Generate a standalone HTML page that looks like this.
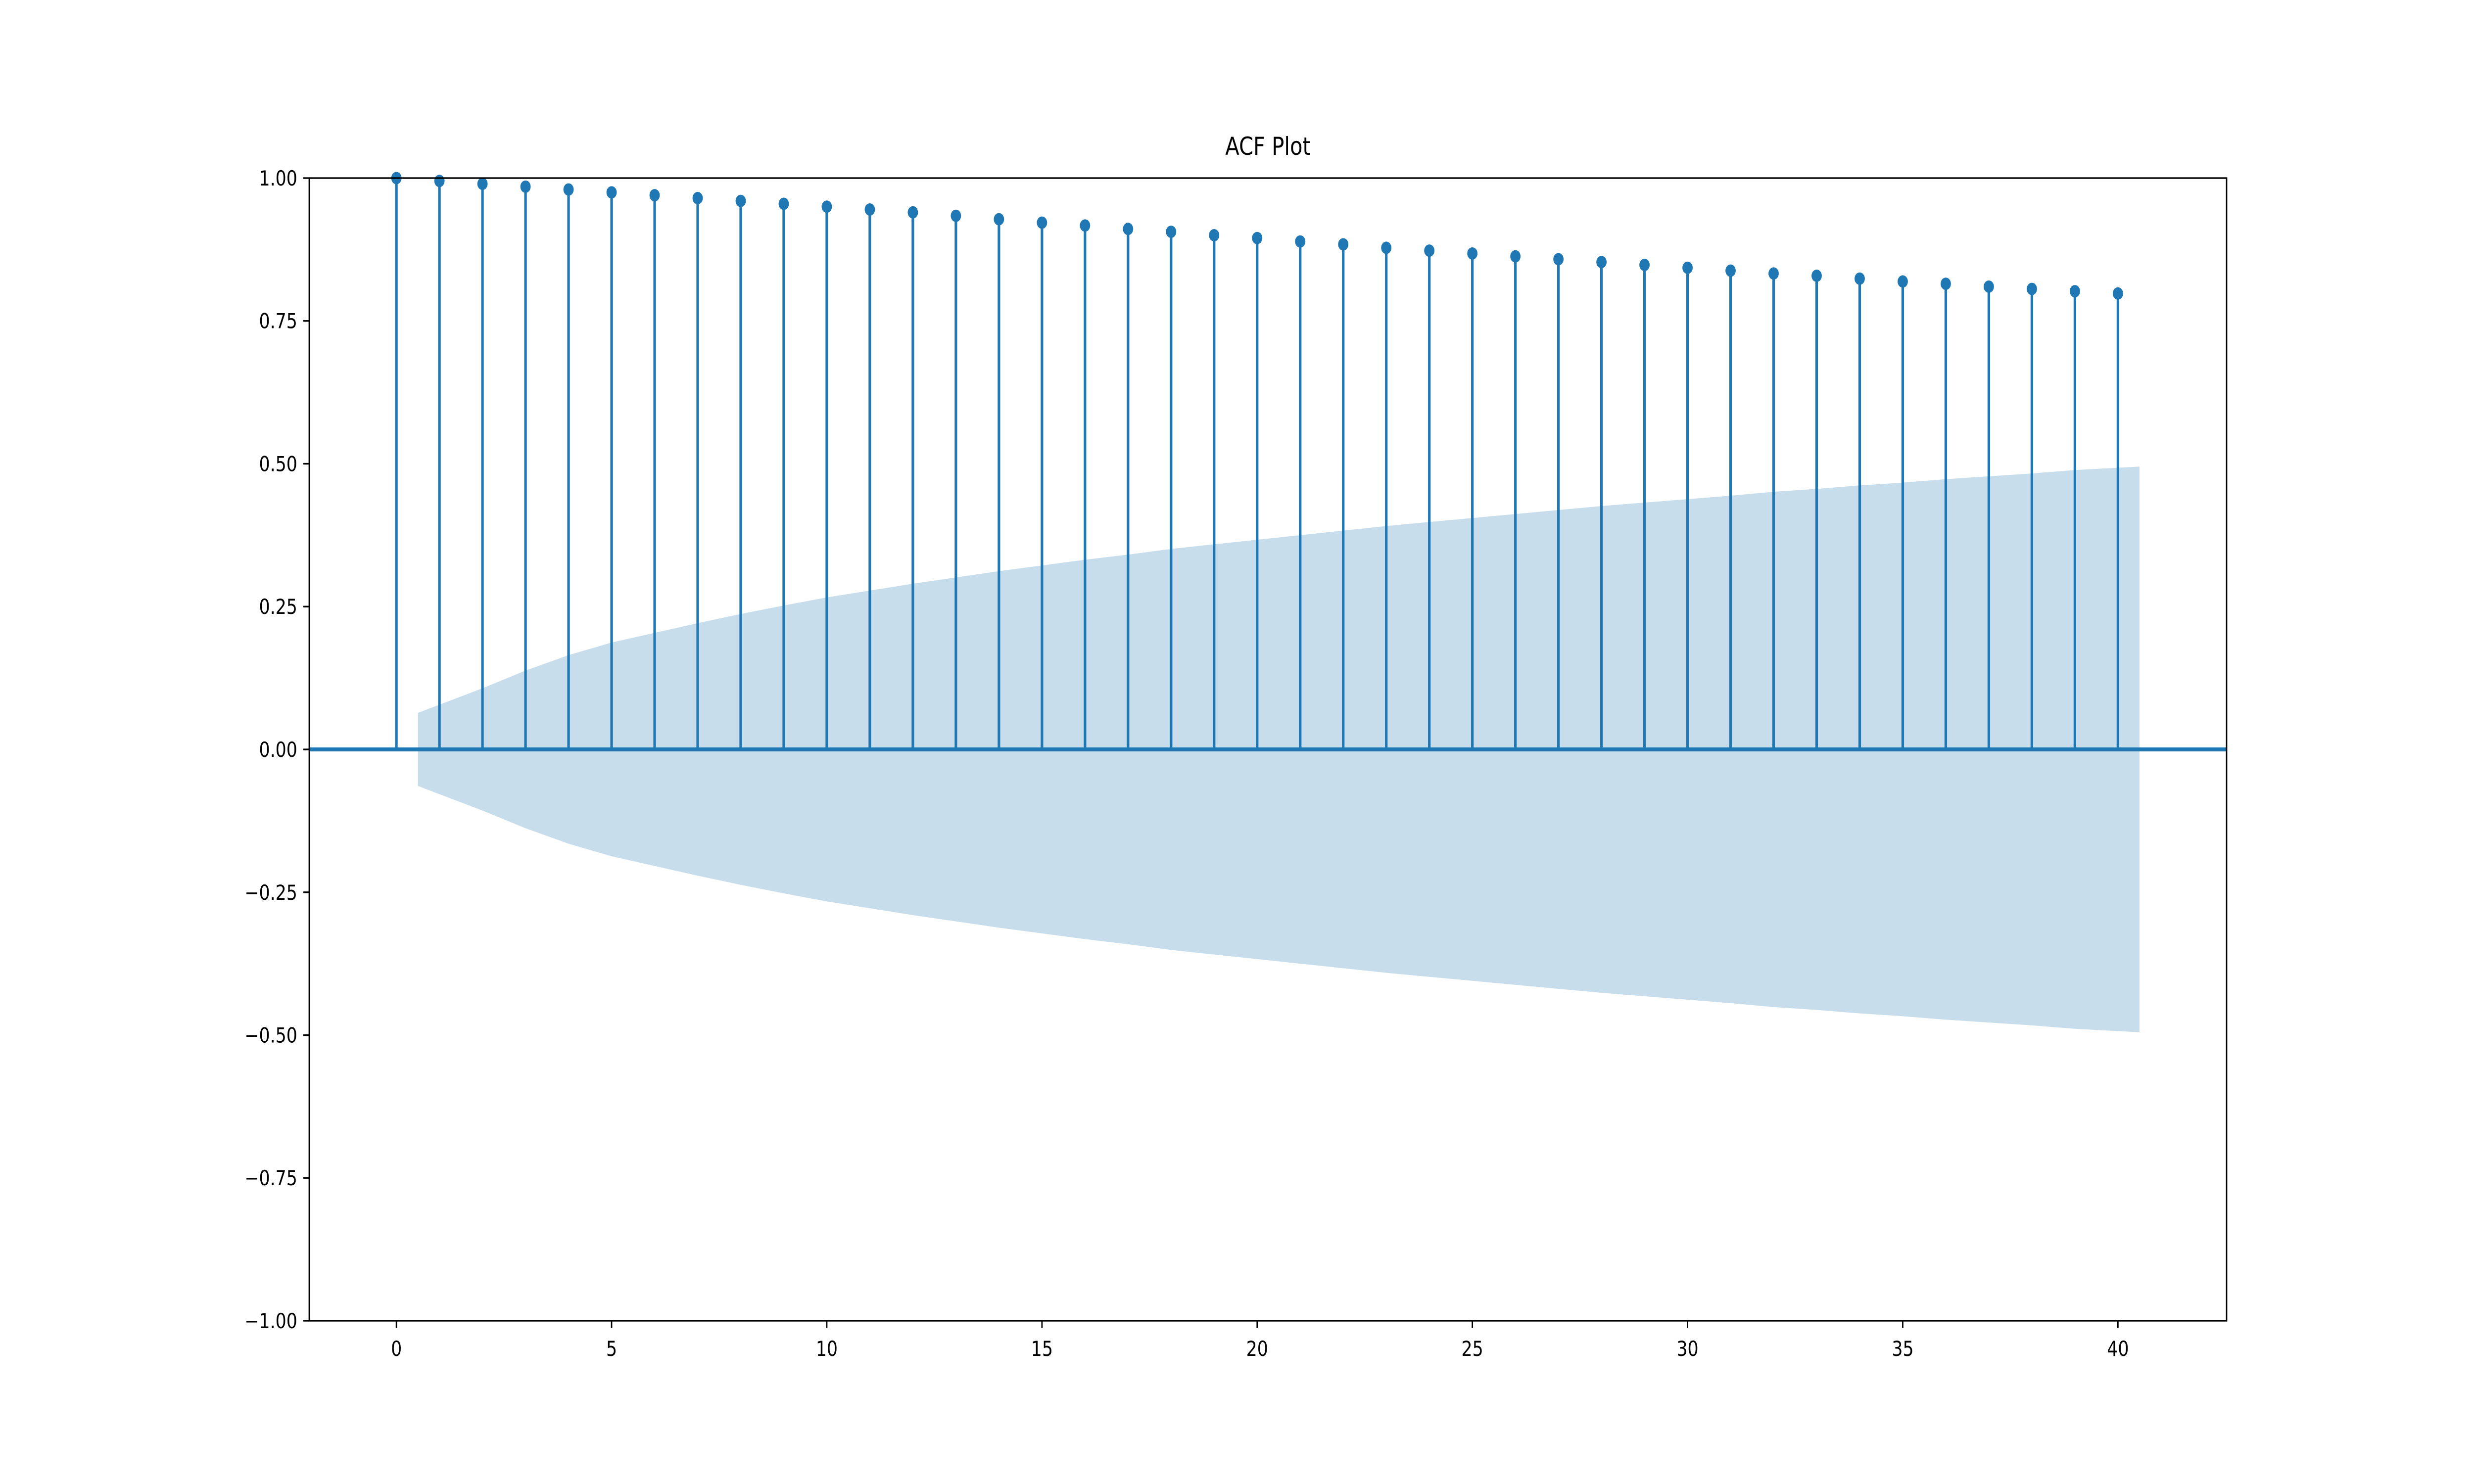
<!DOCTYPE html>
<html><head><meta charset="utf-8"><style>
html,body{margin:0;padding:0;background:#fff;width:100vw;height:100vh;overflow:hidden;}
svg{display:block;width:100vw;height:100vh;font-family:"DejaVu Sans","Liberation Sans",sans-serif;}
</style></head><body>
<svg id="chart" viewBox="0 0 6000 3000" preserveAspectRatio="none" xmlns="http://www.w3.org/2000/svg">
<rect width="6000" height="3000" fill="#fff"/>
<text x="3075" y="313" font-size="50" text-anchor="middle">ACF Plot</text>
<g id="band"></g>
<g id="stems"></g>
<g id="axes"></g>
</svg>
<script>
const lags = [0,1,2,3,4,5,6,7,8,9,10,11,12,13,14,15,16,17,18,19,20,21,22,23,24,25,26,27,28,29,30,31,32,33,34,35,36,37,38,39,40];
const acfValues = [1.000,0.995,0.990,0.985,0.980,0.975,0.970,0.965,0.960,0.955,0.950,0.945,0.940,0.934,0.928,0.922,0.917,0.911,0.906,0.900,0.895,0.889,0.884,0.878,0.873,0.868,0.863,0.858,0.853,0.848,0.843,0.838,0.833,0.829,0.824,0.819,0.815,0.810,0.806,0.802,0.798];
const confWidth = [0.064,0.107,0.138,0.165,0.187,0.204,0.221,0.237,0.252,0.266,0.278,0.290,0.301,0.312,0.322,0.332,0.341,0.351,0.359,0.367,0.375,0.383,0.391,0.398,0.405,0.412,0.419,0.426,0.432,0.438,0.444,0.451,0.456,0.462,0.467,0.473,0.478,0.483,0.489,0.495];
const xTicks = [0,5,10,15,20,25,30,35,40];
const yTicks = [-1,-0.75,-0.5,-0.25,0,0.25,0.5,0.75,1];
const yTickLabels = ["\u22121.00","\u22120.75","\u22120.50","\u22120.25","0.00","0.25","0.50","0.75","1.00"];

const L=750,R=5400,T=360,B=2670;
const xMin=-2.025,xMax=42.525,yMin=-1,yMax=1;
const sx=v=>L+(v-xMin)/(xMax-xMin)*(R-L);
const sy=v=>B-(v-yMin)/(yMax-yMin)*(B-T);
const NS="http://www.w3.org/2000/svg";
function mk(tag,attrs,parent){const e=document.createElementNS(NS,tag);for(const k in attrs)e.setAttribute(k,attrs[k]);parent.appendChild(e);return e;}

const band=document.getElementById('band');
const bx=confWidth.map((w,i)=>{let x=i+1; if(i===0)x=0.5; if(i===confWidth.length-1)x=x+0.5; return x;});
let pts=[];
for(let i=0;i<confWidth.length;i++)pts.push(sx(bx[i])+','+sy(confWidth[i]));
for(let i=confWidth.length-1;i>=0;i--)pts.push(sx(bx[i])+','+sy(-confWidth[i]));
const poly=mk('polygon',{points:pts.join(' '),fill:'#1f77b4','fill-opacity':0.25},band);



const stems=document.getElementById('stems');
lags.forEach((lag,i)=>{
  const ln=mk('line',{x1:sx(lag),x2:sx(lag),y1:sy(0),y2:sy(acfValues[i]),stroke:'#1f77b4','stroke-width':6.25},stems);
  
  
});
const zl=mk('line',{x1:L,x2:R,y1:sy(0),y2:sy(0),stroke:'#1f77b4','stroke-width':8},stems);


lags.forEach((lag,i)=>{
  const c=mk('circle',{cx:sx(lag),cy:sy(acfValues[i]),r:12.5,fill:'#1f77b4'},stems);
  
  
});

const axes=document.getElementById('axes');
const fr=mk('rect',{x:L,y:T,width:R-L,height:B-T,fill:'none',stroke:'#000','stroke-width':3.3},axes);


xTicks.forEach(v=>{
  const t=mk('line',{x1:sx(v),x2:sx(v),y1:B,y2:B+14.6,stroke:'#000','stroke-width':3.3},axes);
  
  
  const tx=mk('text',{x:sx(v),y:B+71,'font-size':41.7,'text-anchor':'middle',fill:'#000'},axes);
  tx.textContent=String(v);
  
  
});
yTicks.forEach((v,i)=>{
  const t=mk('line',{x1:L-14.6,x2:L,y1:sy(v),y2:sy(v),stroke:'#000','stroke-width':3.3},axes);
  
  
  const tx=mk('text',{x:L-29,y:sy(v)+15,'font-size':41.7,'text-anchor':'end',fill:'#000'},axes);
  tx.textContent=yTickLabels[i];
  
  
});
</script>
</body></html>
